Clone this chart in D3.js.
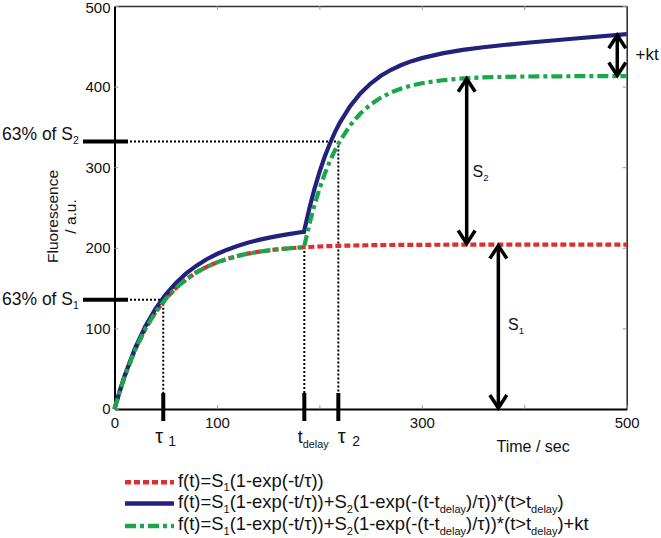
<!DOCTYPE html>
<html>
<head>
<meta charset="utf-8">
<script src="https://cdn.jsdelivr.net/npm/d3@7"></script>
<style>
  html, body { margin: 0; padding: 0; background: #fff; }
  svg { display: block; font-family: "Liberation Sans", Arial, Helvetica, sans-serif; }
</style>
</head>
<body>
<svg id="chart" width="661" height="538"></svg>
<script>
// ---------------- data ----------------
const timeValues = [0,5,10,20,30,40,50,60,70,80,90,100,110,120,130,140,150,160,170,180,185,190,195,200,205,210,215,220,230,240,250,260,270,280,290,300,320,340,360,380,400,450,500];
const redValues = [0,21.5,40.7,73.2,99.3,120.1,136.8,150.2,160.9,169.5,176.4,181.9,186.3,189.8,192.7,194.9,196.7,198.2,199.3,200.3,200.7,201.0,201.3,201.6,201.9,202.1,202.3,202.5,202.8,203.0,203.2,203.4,203.5,203.6,203.7,203.7,203.8,203.9,204,204,204,204,204];
const blueValues = [0,22.0,41.7,75.3,102.4,124.3,142.0,156.4,168.2,177.8,185.8,192.3,197.7,202.3,206.2,209.5,212.3,214.8,217.0,219.0,219.9,247.9,272.3,293.6,312.3,328.5,342.9,355.3,375.8,391.6,403.8,413.4,420.9,426.8,431.6,435.3,441.2,445.5,448.8,451.6,454.1,459.7,465.0];
const greenValues = [0,21.5,40.7,73.2,99.3,120.1,136.8,150.2,160.9,169.5,176.4,181.9,186.3,189.8,192.7,194.9,196.7,198.2,199.3,200.3,200.7,228.1,252.0,272.8,291.0,306.7,320.5,332.4,351.9,366.6,377.8,386.4,392.8,397.7,401.4,404.1,407.9,410.1,411.4,412.1,412.5,412.9,413.0];

const xTicks = [0,100,200,300,400,500];
const xTickLabels = ["0","100","","300","","500"];
const yTicks = [0,100,200,300,400,500];
const yTickLabels = ["0","100","200","300","400","500"];

// annotation values (data units)
const tau1 = 47.6, tDelay = 185.3, tau2 = 218.5;
const pct63S1 = 135.4, pct63S2 = 332;
const redAtDelay = 201;
const arrowS1 = {t: 374.7, from: 0, to: 204};
const arrowS2 = {t: 343.8, from: 204, to: 411};
const arrowKt = {t: 490.8, from: 412.5, to: 465};

const legendRows = [
  [["f(t)=S",0],["1",1],["(1-exp(-t/τ))",0]],
  [["f(t)=S",0],["1",1],["(1-exp(-t/τ))+S",0],["2",1],["(1-exp(-(t-t",0],["delay",1],[")/τ))*(t>t",0],["delay",1],[")",0]],
  [["f(t)=S",0],["1",1],["(1-exp(-t/τ))+S",0],["2",1],["(1-exp(-(t-t",0],["delay",1],[")/τ))*(t>t",0],["delay",1],[")+kt",0]]
];

// ---------------- chart ----------------
const svg = d3.select("#chart");
const x = d3.scaleLinear().domain([0,500]).range([114.5,626.7]);
const y = d3.scaleLinear().domain([0,500]).range([409,6]);

const red = "#dc2f2f", blue = "#22227d", green = "#1ba64a";
const styles = [
  {vals: redValues, color: red, dash: "6,3"},
  {vals: blueValues, color: blue, dash: null},
  {vals: greenValues, color: green, dash: "11,4,4,4"}
];

// frame (top/right)
svg.append("g").attr("transform", `translate(0,${y(500)})`)
  .call(d3.axisTop(x).tickValues(xTicks).tickSizeInner(-4).tickSizeOuter(0).tickFormat(""))
  .call(g => { g.select(".domain").attr("stroke","#333").attr("stroke-width",1.6);
               g.selectAll(".tick line").attr("stroke","#999"); });
svg.append("g").attr("transform", `translate(${x(500)},0)`)
  .call(d3.axisRight(y).tickValues(yTicks).tickSizeInner(-4).tickSizeOuter(0).tickFormat(""))
  .call(g => { g.select(".domain").attr("stroke","#333").attr("stroke-width",1.6);
               g.selectAll(".tick line").attr("stroke","#999"); });

// axes
svg.append("g").attr("transform", `translate(0,${y(0)})`)
  .call(d3.axisBottom(x).tickValues(xTicks).tickSizeInner(-4).tickSizeOuter(0).tickPadding(8)
        .tickFormat((d,i) => xTickLabels[i]))
  .call(g => { g.select(".domain").attr("stroke","#000").attr("stroke-width",2);
               g.selectAll(".tick line").attr("stroke","#999");
               g.selectAll("text").attr("font-size",15).attr("fill","#111").attr("font-family",null); });
svg.append("g").attr("transform", `translate(${x(0)},0)`)
  .call(d3.axisLeft(y).tickValues(yTicks).tickSizeInner(-4).tickSizeOuter(0).tickPadding(4)
        .tickFormat((d,i) => yTickLabels[i]))
  .call(g => { g.select(".domain").attr("stroke","#000").attr("stroke-width",2);
               g.selectAll(".tick line").attr("stroke","#999");
               g.selectAll("text").attr("font-size",15).attr("fill","#111").attr("font-family",null)
                 .attr("dy", d => d === 500 ? "0.45em" : "0.32em"); });

// y label
const yl = svg.append("g").attr("font-size",15.5).attr("fill","#111").attr("text-anchor","middle");
yl.append("text").attr("transform","translate(58,216.5) rotate(-90)").text("Fluorescence");
yl.append("text").attr("transform","translate(76,216.5) rotate(-90)").text("/ a.u.");
// x label
svg.append("text").attr("x",496.5).attr("y",451.5).attr("font-size",16).attr("fill","#111").text("Time / sec");

// dotted guide lines
const guides = svg.append("g").attr("stroke","#000").attr("stroke-width",2).attr("stroke-dasharray","2,2").attr("fill","none");
guides.append("line").attr("x1",130).attr("x2",x(tau1)).attr("y1",y(pct63S1)).attr("y2",y(pct63S1));
guides.append("line").attr("x1",x(tau1)).attr("x2",x(tau1)).attr("y1",y(pct63S1)).attr("y2",393);
guides.append("line").attr("x1",x(tDelay)).attr("x2",x(tDelay)).attr("y1",y(redAtDelay)).attr("y2",393);
guides.append("line").attr("x1",130).attr("x2",x(tau2)).attr("y1",y(pct63S2)).attr("y2",y(pct63S2));
guides.append("line").attr("x1",x(tau2)).attr("x2",x(tau2)).attr("y1",y(pct63S2)).attr("y2",393);

// thick markers
const marks = svg.append("g").attr("stroke","#000").attr("stroke-width",4);
[tau1, tDelay, tau2].forEach(t => marks.append("line").attr("x1",x(t)).attr("x2",x(t)).attr("y1",393).attr("y2",421));
[pct63S1, pct63S2].forEach(v => marks.append("line").attr("x1",83).attr("x2",128).attr("y1",y(v)).attr("y2",y(v)));

// curves
const line = d3.line().x((d,i) => x(timeValues[i])).y(d => y(d));
styles.forEach(s => {
  svg.append("path").attr("d", line(s.vals)).attr("fill","none")
    .attr("stroke", s.color).attr("stroke-width",4.2)
    .attr("stroke-dasharray", s.dash);
});

// arrows
function arrow(a) {
  const g = svg.append("g").attr("stroke","#000").attr("stroke-width",3.5).attr("fill","none");
  const xx = x(a.t), y1 = y(a.from), y2 = y(a.to);
  g.append("line").attr("x1",xx).attr("x2",xx).attr("y1",y1-1).attr("y2",y2+1);
  g.append("path").attr("d",`M${xx-8.5},${y2+14}L${xx},${y2+1}L${xx+8.5},${y2+14}`);
  g.append("path").attr("d",`M${xx-8.5},${y1-14}L${xx},${y1-1}L${xx+8.5},${y1-14}`);
}
[arrowS1, arrowS2, arrowKt].forEach(arrow);

// annotation texts with subscripts
function subText(xp, yp, size, parts, anchor) {
  const t = svg.append("text").attr("x",xp).attr("y",yp).attr("font-size",size).attr("fill","#111")
    .attr("text-anchor", anchor || "start");
  let prevSub = 0;
  parts.forEach(([s, sub]) => {
    const ts = t.append("tspan").text(s);
    if (sub) { ts.attr("font-size", size*0.6); }
    const dy = (sub ? size*0.25 : 0) - (prevSub ? size*0.25 : 0);
    if (dy) ts.attr("dy", dy);
    prevSub = sub;
  });
  return t;
}
subText(2, 140, 17.5, [["63% of S",0],["2",1]]);
subText(2, 305, 17.5, [["63% of S",0],["1",1]]);
subText(472.5, 176.5, 16, [["S",0],["2",1]]);
subText(508, 330, 16, [["S",0],["1",1]]);
svg.append("text").attr("x",635.5).attr("y",60).attr("font-size",17).attr("fill","#111").text("+kt");

// tick-position labels
svg.append("text").attr("x",x(tau1)-8).attr("y",443).attr("font-size",20).attr("fill","#111").text("τ");
svg.append("text").attr("x",x(tau1)+5).attr("y",446).attr("font-size",14).attr("fill","#111").text("1");
subText(x(tDelay)-6.5, 443, 18, [["t",0],["delay",1]]);
svg.append("text").attr("x",x(tau2)-0.5).attr("y",443).attr("font-size",20).attr("fill","#111").text("τ");
svg.append("text").attr("x",x(tau2)+14).attr("y",446).attr("font-size",14).attr("fill","#111").text("2");

// legend
const legendY = [482.3, 503.5, 526];
const legendBase = [486.5, 508, 530];
styles.forEach((s, i) => {
  svg.append("line").attr("x1",125).attr("x2",174).attr("y1",legendY[i]).attr("y2",legendY[i])
    .attr("stroke", s.color).attr("stroke-width",4.5).attr("stroke-dasharray", s.dash);
  subText(178, legendBase[i], 18.4, legendRows[i]);
});
</script>
</body>
</html>
